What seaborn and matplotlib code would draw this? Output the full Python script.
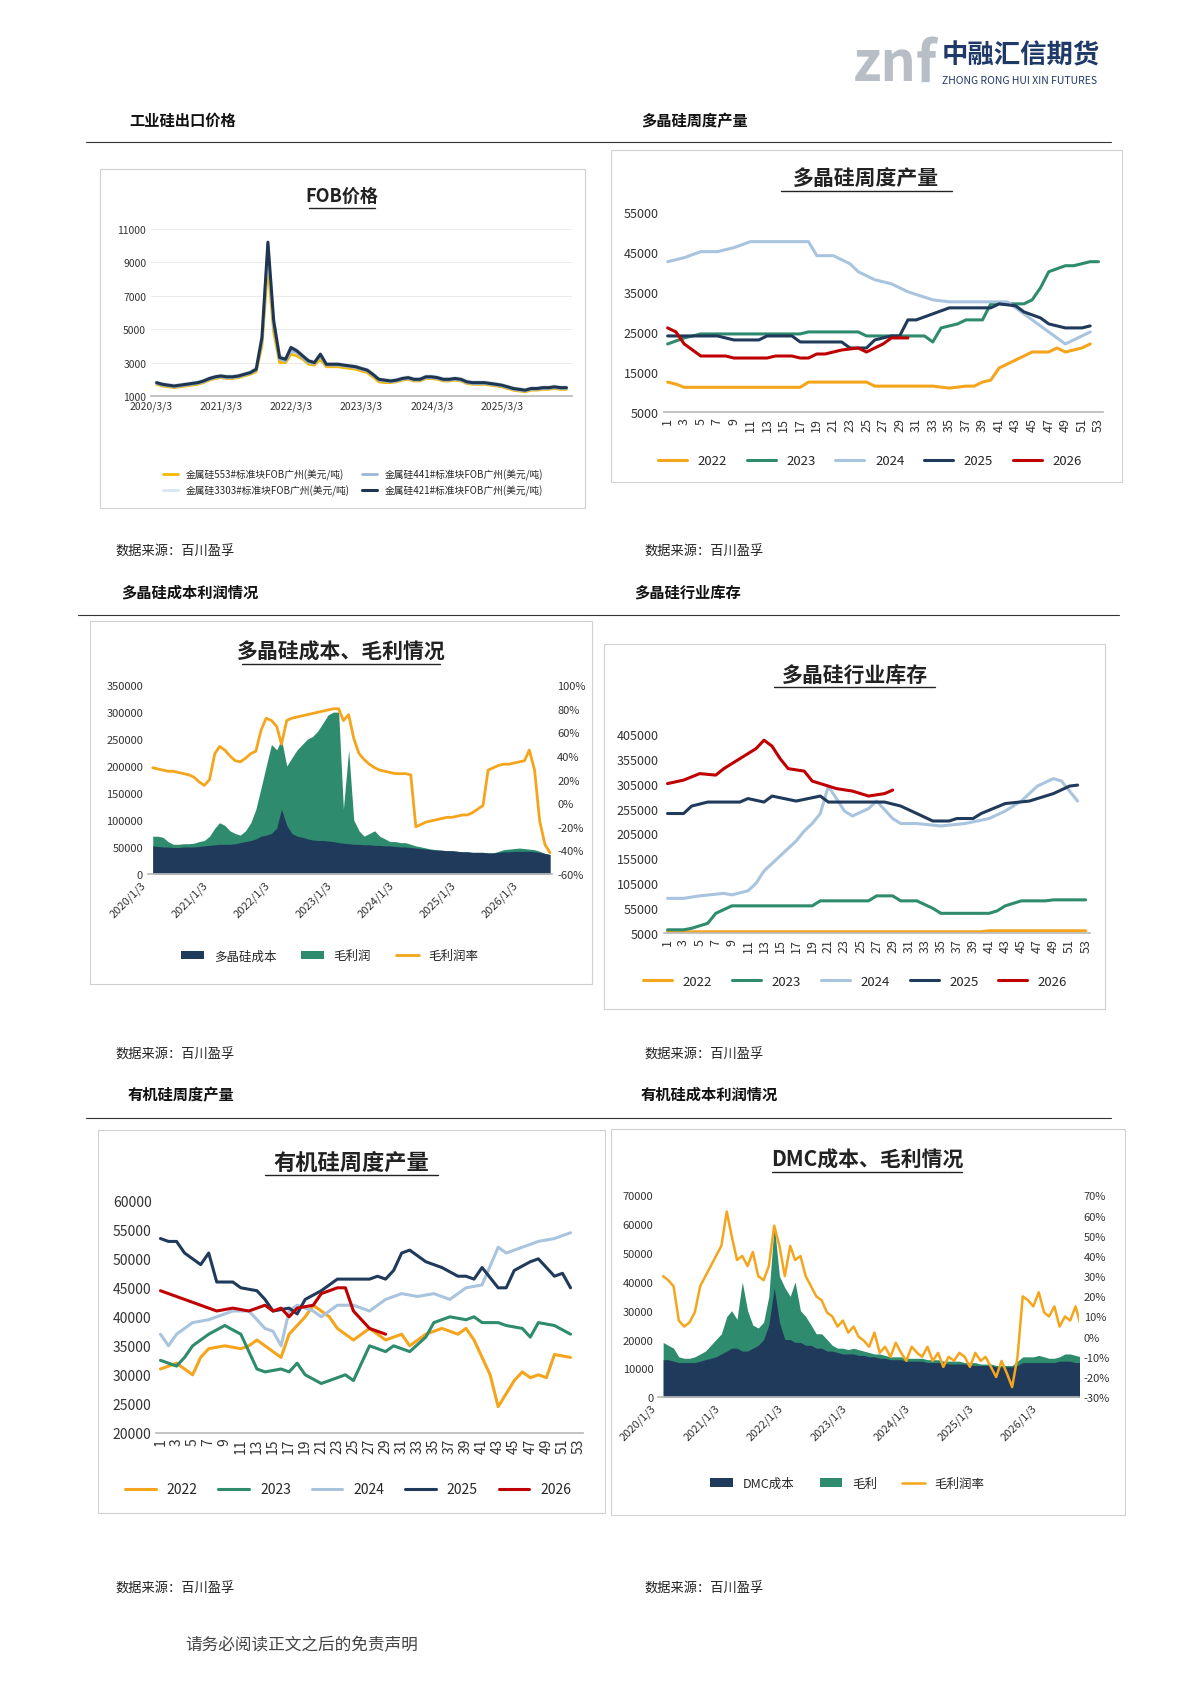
import matplotlib
matplotlib.use('Agg')
import matplotlib.pyplot as plt
import seaborn as sns
import pandas as pd
import numpy as np
from matplotlib.patches import Rectangle
from matplotlib.lines import Line2D

sns.set_theme(style='white')
plt.rcParams['font.family'] = ['Noto Sans CJK SC', 'DejaVu Sans']
plt.rcParams['axes.unicode_minus'] = False

# ---------------- DATA ----------------
fob_421 = [1800,1700,1650,1600,1650,1700,1750,1800,1900,2050,
           2150,2200,2150,2150,2200,2300,2400,2600,4500,10200,5500,3300,
           3200,3900,3700,3400,3100,3000,3500,2900,2900,2900,2850,2800,
           2750,2650,2550,2300,2000,1950,1900,1950,2050,2100,2000,2000,
           2150,2150,2100,2000,2000,2050,2000,1850,1800,1800,1800,1750,
           1700,1650,1550,1450,1400,1350,1450,1450,1500,1500,1550,1500,1500]
fob_553 = [1700,1600,1550,1500,1550,1600,1650,1700,1800,1950,
           2050,2100,2050,2050,2100,2200,2300,2450,4000,8800,4800,3000,
           3000,3500,3400,3200,2900,2850,3200,2750,2750,2750,2700,2650,
           2600,2500,2400,2150,1850,1800,1800,1850,1950,2000,1900,1900,
           2050,2050,2000,1900,1900,1950,1900,1750,1700,1700,1700,1650,
           1600,1550,1450,1350,1300,1250,1350,1350,1400,1400,1450,1400,1400]
fob_441 = [1750,1650,1600,1550,1600,1650,1700,1750,1850,2000,
           2100,2150,2100,2100,2150,2250,2350,2550,4300,9600,5200,3200,
           3100,3700,3600,3300,3000,2950,3400,2850,2850,2850,2800,2750,
           2700,2600,2500,2250,1950,1900,1850,1900,2000,2050,1950,1950,
           2100,2100,2050,1950,1950,2000,1950,1800,1750,1750,1750,1700,
           1650,1600,1500,1400,1350,1300,1400,1400,1450,1450,1500,1450,1450]
fob_3303 = [1850,1750,1700,1650,1700,1750,1800,1850,1950,2100,
            2200,2250,2200,2200,2250,2350,2450,2700,4600,10000,5600,3400,
            3300,3950,3750,3450,3150,3050,3550,2950,2950,2950,2900,2850,
            2800,2700,2600,2350,2050,2000,1950,2000,2100,2150,2050,2050,
            2200,2200,2150,2050,2050,2100,2050,1900,1850,1850,1850,1800,
            1750,1700,1600,1500,1450,1400,1500,1500,1550,1550,1600,1550,1550]
fob_ticks = ['2020/3/3','2021/3/3','2022/3/3','2023/3/3','2024/3/3','2025/3/3']

# polysilicon weekly production
p22_w = [1,2,3,5,10,17,18,25,26,33,35,37,38,39,40,41,43,45,47,48,49,50,51,52]
p22_v = [12500,12000,11200,11200,11200,11200,12500,12500,11500,11500,11000,11500,11500,12500,13000,16000,18000,20000,20000,21000,20000,20500,21000,22000]
p23_w = [1,3,5,10,17,18,24,25,32,33,34,36,37,39,40,44,45,46,47,49,50,52,53]
p23_v = [22000,23500,24500,24500,24500,25000,25000,24000,24000,22500,26000,27000,28000,28000,32000,32000,33000,36000,40000,41500,41500,42500,42500]
p24_w = [1,3,5,7,9,11,13,18,19,21,23,24,26,28,30,33,35,42,43,45,47,49,51,52]
p24_v = [42500,43500,45000,45000,46000,47500,47500,47500,44000,44000,42000,40000,38000,37000,35000,33000,32500,32500,31000,28000,25000,22000,24000,25000]
p25_w = [1,7,8,9,12,13,16,17,22,23,25,26,28,29,30,31,33,35,40,41,43,44,46,47,49,51,52]
p25_v = [24000,24000,23500,23000,23000,24000,24000,22500,22500,21000,21000,23000,24000,24000,28000,28000,29500,31000,31000,32000,31500,30000,28500,27000,26000,26000,26500]
p26_w = [1,2,3,4,5,8,9,13,14,16,17,18,19,20,22,24,25,27,28,30]
p26_v = [26000,25000,22000,20500,19000,19000,18500,18500,19000,19000,18500,18500,19500,19500,20500,21000,20000,22000,23500,23500]

# polysilicon inventory
i22_w = [1,10,20,30,40,41,50,53]
i22_v = [8000,8000,8000,8000,8000,10000,10000,10000]
i23_w = [1,3,4,6,7,9,19,20,26,27,29,30,32,34,35,41,42,43,45,48,49,53]
i23_v = [12000,12000,15000,25000,45000,60000,60000,70000,70000,80000,80000,70000,70000,55000,45000,45000,50000,60000,70000,70000,72000,72000]
i24_w = [1,3,5,8,9,11,12,13,15,17,18,19,20,21,23,24,26,27,29,30,32,35,38,41,43,45,47,49,50,52]
i24_v = [75000,75000,80000,85000,82000,90000,105000,130000,160000,190000,210000,225000,245000,300000,250000,240000,255000,270000,235000,225000,225000,220000,225000,235000,250000,270000,300000,315000,310000,270000]
i25_w = [1,3,4,6,10,11,13,14,17,20,21,28,30,32,34,36,37,39,40,43,46,49,51,52]
i25_v = [245000,245000,260000,268000,268000,275000,268000,280000,270000,280000,268000,268000,260000,245000,230000,230000,235000,235000,245000,265000,270000,285000,300000,302000]
i26_w = [1,3,5,7,8,11,12,13,14,15,16,18,19,21,22,24,26,28,29]
i26_v = [305000,312000,325000,322000,335000,365000,375000,392000,380000,355000,335000,330000,310000,300000,295000,290000,280000,285000,292000]

# organosilicon weekly production
o22_w = [1,3,5,6,7,9,11,12,13,15,16,17,19,20,22,23,25,27,28,29,31,32,34,36,38,39,40,42,43,45,46,47,48,49,50,52]
o22_v = [31000,32000,30000,33000,34500,35000,34500,35000,36000,34000,33000,37000,40000,42000,40000,38000,36000,38000,37000,36000,37000,35000,37000,38000,37000,38000,36000,30000,24500,29000,30500,29500,30000,29500,33500,33000]
o23_w = [1,3,4,5,7,9,11,13,14,16,17,18,19,21,22,23,24,25,27,29,30,32,34,35,37,39,40,41,43,44,46,47,48,50,52]
o23_v = [32500,31500,33000,35000,37000,38500,37000,31000,30500,31000,30500,32000,30000,28500,29000,29500,30000,29000,35000,34000,35000,34000,36500,39000,40000,39500,40000,39000,39000,38500,38000,36500,39000,38500,37000]
o24_w = [1,2,3,5,7,8,10,12,14,15,16,17,18,20,21,23,25,27,29,31,33,35,37,39,41,43,44,46,48,50,52]
o24_v = [37000,35000,37000,39000,39500,40000,41000,41000,38000,37500,35000,41000,42000,41000,40000,42000,42000,41000,43000,44000,43500,44000,43000,45000,45500,52000,51000,52000,53000,53500,54500]
o25_w = [1,2,3,4,5,6,7,8,10,11,13,14,15,17,18,19,21,23,25,27,28,29,30,31,32,34,36,38,39,40,41,43,44,45,47,48,50,51,52]
o25_v = [53500,53000,53000,51000,50000,49000,51000,46000,46000,45000,44500,43000,41000,41500,40500,43000,44500,46500,46500,46500,47000,46500,48000,51000,51500,49500,48500,47000,47000,46500,48500,45000,45000,48000,49500,50000,47000,47500,45000]
o26_w = [1,2,4,6,8,10,12,13,14,15,16,17,18,20,21,23,24,25,27,29]
o26_v = [44500,44000,43000,42000,41000,41500,41000,41500,42000,41000,41500,40000,41500,42000,44000,45000,45000,41000,38000,37000]

# polysilicon cost / profit (monthly from 2020-01)
pc_cost = [52000,51000,50000,50000,49000,49000,50000,50000,50000,51000,52000,53000,
           54000,55000,55000,55000,56000,58000,60000,62000,65000,70000,72000,75000,
           85000,120000,90000,75000,70000,68000,65000,63000,62000,62000,61000,60000,
           58000,57000,56000,55000,55000,54000,54000,53000,53000,52000,52000,51000,
           50000,50000,49000,48000,47000,46000,45000,44000,44000,43000,43000,42000,
           41000,41000,40000,40000,40000,39000,39000,40000,41000,41000,42000,42000,
           42000,42000,41000,40000,38000,36000]
pc_total = [70000,70000,68000,60000,55000,55000,56000,56000,57000,60000,62000,70000,
            85000,95000,90000,80000,75000,72000,80000,95000,120000,160000,200000,240000,
            230000,250000,200000,215000,230000,240000,250000,255000,265000,280000,295000,300000,
            300000,120000,230000,100000,80000,70000,75000,80000,70000,65000,60000,60000,
            58000,58000,55000,52000,50000,48000,46000,45000,44000,43000,43000,42000,
            41000,41000,40000,40000,40000,39000,39000,42000,45000,46000,47000,48000,
            47000,46000,45000,42000,38000,36000]
pc_margin = [30,29,28,27,27,26,25,24,22,18,15,20,
             42,48,45,40,36,35,38,42,44,62,72,70,
             65,50,70,72,73,74,75,76,77,78,79,80,
             80,70,75,55,42,37,33,30,28,27,26,25,
             25,25,24,-20,-18,-16,-15,-14,-13,-12,-12,-11,
             -10,-10,-8,-5,-2,28,30,32,33,33,34,35,
             36,45,28,-15,-35,-42]

# DMC cost / profit (monthly from 2020-01)
dmc_cost = [13000,13000,12500,12000,12000,12000,12000,12500,13000,13500,14000,15000,
            16000,17000,17000,16000,16000,17000,18000,20000,25000,38000,26000,20000,
            20000,19000,19000,18000,18000,17000,17000,16000,16000,15500,15000,15000,
            15000,14500,14500,14000,14000,13500,13500,13000,13000,13000,12500,12500,
            12500,12500,12000,12000,12000,12000,11500,11500,11500,11500,11000,11000,
            11000,11000,11000,10500,10500,10500,10500,11000,12000,12000,12000,12000,
            12000,12000,12000,12500,12500,12500,12000,12000]
dmc_total = [19000,18000,17000,14000,13500,13500,14000,15000,16000,18000,20000,22000,
             28000,30000,27000,40000,30000,25000,24000,26000,35000,60000,42000,38000,
             35000,40000,30000,28000,25000,22000,22000,20000,18000,17000,17000,16500,
             17000,16500,16000,15500,15000,15000,14500,14000,14000,14000,13500,13500,
             13500,13500,13000,13000,13000,12500,12500,12500,12500,12000,12000,12000,
             11500,11500,11500,11000,11000,11000,11000,12500,14000,14000,14000,14500,
             14000,13500,13500,14000,15000,15000,14500,14000]
dmc_margin = [30,28,25,8,5,7,12,25,30,35,40,45,
              62,50,38,40,35,42,30,28,35,55,45,30,
              45,38,40,30,25,20,18,12,10,5,8,2,
              5,0,-2,-5,2,-8,-5,-10,-3,-8,-12,-5,
              -8,-10,-5,-12,-8,-15,-10,-12,-8,-10,-15,-8,
              -12,-10,-15,-20,-12,-18,-25,-10,20,18,15,22,
              12,10,15,5,10,8,15,5]
date_ticks = ['2020/1/3','2021/1/3','2022/1/3','2023/1/3','2024/1/3','2025/1/3','2026/1/3']

years = ['2022','2023','2024','2025','2026']
ycols = ['#F4A51C','#2E8B6E','#A9C4DE','#1F3A5A','#C00000']

# ---------------- LAYOUT ----------------
W, H = 1103, 1560
fig = plt.figure(figsize=(11.9, 16.83), dpi=100)

def rect(x0, y0, x1, y1):
    return [x0 / W, 1 - y1 / H, (x1 - x0) / W, (y1 - y0) / H]

def T(x, y, s, **kw):
    fig.text(x / W, 1 - y / H, s, **kw)

def box(x0, y0, x1, y1):
    fig.add_artist(Rectangle((x0 / W, 1 - y1 / H), (x1 - x0) / W, (y1 - y0) / H,
                             transform=fig.transFigure, fill=False, ec='#d0d0d0', lw=0.8))

def hline(x0, x1, y, c='#333333', lw=0.8):
    fig.add_artist(Line2D([x0 / W, x1 / W], [1 - y / H, 1 - y / H], transform=fig.transFigure, color=c, lw=lw))

def title(xc, y, s, width, size=15):
    T(xc, y, s, ha='center', va='center', fontsize=size, fontweight='bold', color='#222222')
    hline(xc - width / 2, xc + width / 2, y + 12, c='#222222', lw=1.0)

def style(ax, fs=8.5):
    for s in ['top', 'right', 'left']:
        ax.spines[s].set_visible(False)
    ax.spines['bottom'].set_color('#bbbbbb')
    ax.tick_params(axis='both', labelsize=fs, colors='#333333', length=0)

# logo
T(790, 60, 'znf', fontsize=40, fontweight='bold', color='#B8BEC6', ha='left', va='center')
T(873, 52, '中融汇信期货', fontsize=19, fontweight='bold', color='#1F3A68', ha='left', va='center')
T(873, 75, 'ZHONG RONG HUI XIN FUTURES', fontsize=7.5, color='#1F3A68', ha='left', va='center')

# headers
for (x, y, s) in [(120, 112, '工业硅出口价格'), (594, 112, '多晶硅周度产量'),
                  (112, 549, '多晶硅成本利润情况'), (588, 549, '多晶硅行业库存'),
                  (118, 1015, '有机硅周度产量'), (594, 1015, '有机硅成本利润情况')]:
    T(x, y, s, fontsize=11, fontweight='bold', ha='left', va='center', color='#111111')
hline(80, 1030, 133)
hline(72, 1037, 571)
hline(80, 1030, 1037)
for (x, y) in [(107, 512), (597, 512), (107, 978), (597, 978), (107, 1473), (597, 1473)]:
    T(x, y, '数据来源：百川盈孚', fontsize=9.5, ha='left', va='center', color='#222222')
T(172, 1525, '请务必阅读正文之后的免责声明', fontsize=12, ha='left', va='center', color='#444444')

# ---------------- Chart 1: FOB ----------------
box(93, 158, 542, 472)
title(317, 182, 'FOB价格', 62, size=13)
ax = fig.add_axes(rect(140, 213, 530, 368))
dates_fob = pd.date_range('2020-03-03', periods=len(fob_421), freq='MS')
df = pd.DataFrame({'d': dates_fob, '553': fob_553, '441': fob_441, '3303': fob_3303, '421': fob_421})
l1 = sns.lineplot(data=df, x='d', y='553', ax=ax, color='#F2B800', lw=2, label='金属硅553#标准块FOB广州(美元/吨)')
sns.lineplot(data=df, x='d', y='441', ax=ax, color='#9BB7D4', lw=2, label='金属硅441#标准块FOB广州(美元/吨)')
sns.lineplot(data=df, x='d', y='3303', ax=ax, color='#D6E6F0', lw=2, label='金属硅3303#标准块FOB广州(美元/吨)')
sns.lineplot(data=df, x='d', y='421', ax=ax, color='#1F3550', lw=2.2, label='金属硅421#标准块FOB广州(美元/吨)')
ax.set_ylim(1000, 11000)
ax.set_yticks(range(1000, 11001, 2000))
ax.set_xlim(pd.Timestamp('2020-03-03'), pd.Timestamp('2026-03-01'))
ax.set_xticks(pd.to_datetime(fob_ticks))
ax.set_xticklabels(fob_ticks)
ax.set_xlabel(''); ax.set_ylabel('')
style(ax, 7.5)
ax.grid(axis='y', color='#e6e6e6', lw=0.6)
h, l = ax.get_legend_handles_labels()
order = [0, 2, 1, 3]
ax.legend([h[i] for i in order], [l[i] for i in order], ncol=2, loc='upper center',
          bbox_to_anchor=(0.48, -0.38), frameon=False, fontsize=7, handlelength=1.6, columnspacing=1.2)

# ---------------- Chart 2: poly weekly production ----------------
box(566, 140, 1040, 448)
title(803, 166, '多晶硅周度产量', 158)
ax = fig.add_axes(rect(615, 197, 1022, 383))
for y_, w_, v_, c_ in zip(years, [p22_w, p23_w, p24_w, p25_w, p26_w], [p22_v, p23_v, p24_v, p25_v, p26_v], ycols):
    sns.lineplot(x=w_, y=v_, ax=ax, color=c_, lw=2.2, label=y_)
ax.set_ylim(5000, 55000); ax.set_yticks(range(5000, 55001, 10000))
ax.set_xlim(0.5, 53.5); ax.set_xticks(range(1, 54, 2))
ax.tick_params(axis='x', rotation=90)
style(ax, 9)
ax.legend(ncol=5, loc='upper center', bbox_to_anchor=(0.47, -0.15), frameon=False, fontsize=9.5,
          handlelength=2.2, columnspacing=1.5)

# ---------------- Chart 3: poly cost profit ----------------
box(83, 577, 549, 913)
title(316, 604, '多晶硅成本、毛利情况', 183)
ax = fig.add_axes(rect(137, 636, 512, 811))
dpc = pd.date_range('2020-01-03', periods=len(pc_cost), freq='MS')
ax.fill_between(dpc, 0, pc_total, color='#2E8B6E', lw=0, label='毛利润')
ax.fill_between(dpc, 0, pc_cost, color='#1F3A5A', lw=0, label='多晶硅成本')
ax.set_ylim(0, 350000); ax.set_yticks(range(0, 350001, 50000))
ax.set_xlim(pd.Timestamp('2020-01-03'), pd.Timestamp('2026-07-15'))
ax.set_xticks(pd.to_datetime(date_ticks)); ax.set_xticklabels(date_ticks, rotation=45, ha='right')
style(ax, 8)
ax2 = ax.twinx()
sns.lineplot(x=dpc, y=pc_margin, ax=ax2, color='#F4A51C', lw=2, label='毛利润率')
ax2.set_ylim(-60, 100); ax2.set_yticks(range(-60, 101, 20))
ax2.set_yticklabels([f'{v}%' for v in range(-60, 101, 20)])
for s in ax2.spines.values(): s.set_visible(False)
ax2.tick_params(labelsize=8, length=0, colors='#333333')
ax2.get_legend().remove()
h1, l1_ = ax.get_legend_handles_labels(); h2, l2 = ax2.get_legend_handles_labels()
ax.legend([h1[1], h1[0], h2[0]], [l1_[1], l1_[0], l2[0]], ncol=3, loc='upper center',
          bbox_to_anchor=(0.45, -0.34), frameon=False, fontsize=9, handlelength=1.8)

# ---------------- Chart 4: poly inventory ----------------
box(560, 598, 1024, 936)
title(792, 626, '多晶硅行业库存', 150)
ax = fig.add_axes(rect(615, 681, 1010, 866))
for y_, w_, v_, c_ in zip(years, [i22_w, i23_w, i24_w, i25_w, i26_w], [i22_v, i23_v, i24_v, i25_v, i26_v], ycols):
    sns.lineplot(x=w_, y=v_, ax=ax, color=c_, lw=2.2, label=y_)
ax.set_ylim(5000, 405000); ax.set_yticks(range(5000, 405001, 50000))
ax.set_xlim(0.5, 53.5); ax.set_xticks(range(1, 54, 2))
ax.tick_params(axis='x', rotation=90)
style(ax, 9)
ax.legend(ncol=5, loc='upper center', bbox_to_anchor=(0.45, -0.15), frameon=False, fontsize=9.5,
          handlelength=2.2, columnspacing=1.5)

# ---------------- Chart 5: organosilicon weekly ----------------
box(91, 1048, 561, 1403)
title(326, 1078, '有机硅周度产量', 160, size=16)
ax = fig.add_axes(rect(145, 1114, 540, 1329))
for y_, w_, v_, c_ in zip(years, [o22_w, o23_w, o24_w, o25_w, o26_w], [o22_v, o23_v, o24_v, o25_v, o26_v], ycols):
    sns.lineplot(x=w_, y=v_, ax=ax, color=c_, lw=2.2, label=y_)
ax.set_ylim(20000, 60000); ax.set_yticks(range(20000, 60001, 5000))
ax.set_xlim(0.5, 53.5); ax.set_xticks(range(1, 54, 2))
ax.tick_params(axis='x', rotation=90)
style(ax, 10)
ax.legend(ncol=5, loc='upper center', bbox_to_anchor=(0.45, -0.16), frameon=False, fontsize=10,
          handlelength=2.2, columnspacing=1.5)

# ---------------- Chart 6: DMC ----------------
box(566, 1047, 1043, 1405)
title(804, 1075, 'DMC成本、毛利情况', 176)
ax = fig.add_axes(rect(610, 1109, 1000, 1296))
ddm = pd.date_range('2020-01-03', periods=len(dmc_cost), freq='MS')
ax.fill_between(ddm, 0, dmc_total, color='#2E8B6E', lw=0, label='毛利')
ax.fill_between(ddm, 0, dmc_cost, color='#1F3A5A', lw=0, label='DMC成本')
ax.set_ylim(0, 70000); ax.set_yticks(range(0, 70001, 10000))
ax.set_xlim(pd.Timestamp('2020-01-03'), pd.Timestamp('2026-08-20'))
ax.set_xticks(pd.to_datetime(date_ticks)); ax.set_xticklabels(date_ticks, rotation=45, ha='right')
style(ax, 8)
ax2 = ax.twinx()
sns.lineplot(x=ddm, y=dmc_margin, ax=ax2, color='#F4A51C', lw=1.8, label='毛利润率')
ax2.set_ylim(-30, 70); ax2.set_yticks(range(-30, 71, 10))
ax2.set_yticklabels([f'{v}%' for v in range(-30, 71, 10)])
for s in ax2.spines.values(): s.set_visible(False)
ax2.tick_params(labelsize=8, length=0, colors='#333333')
ax2.get_legend().remove()
h1, l1_ = ax.get_legend_handles_labels(); h2, l2 = ax2.get_legend_handles_labels()
ax.legend([h1[1], h1[0], h2[0]], [l1_[1], l1_[0], l2[0]], ncol=3, loc='upper center',
          bbox_to_anchor=(0.45, -0.34), frameon=False, fontsize=9, handlelength=1.8)

fig.savefig('out.png', dpi=100)
